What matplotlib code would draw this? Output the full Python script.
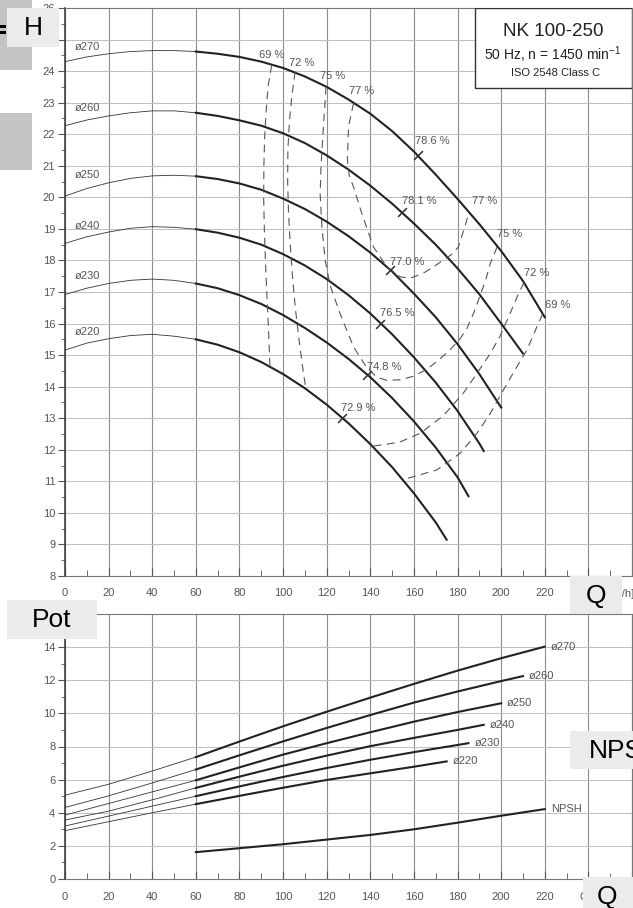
import numpy as np
import matplotlib
matplotlib.use('Agg')
import matplotlib.pyplot as plt
from matplotlib.patches import Rectangle

plt.rcParams['font.family'] = ['Liberation Sans', 'DejaVu Sans']
plt.rcParams['mathtext.fontset'] = 'custom'
plt.rcParams['mathtext.rm'] = 'Liberation Sans'

# ---- head curves H(Q) read from the sheet ----
diameters = ['ø270', 'ø260', 'ø250', 'ø240', 'ø230', 'ø220']

q_h_270 = [0, 10, 20, 30, 40, 50, 60, 70, 80, 90, 100, 110, 120, 130, 140, 150, 160, 170, 180, 190, 200, 210, 220]
h_270 = [24.30, 24.45, 24.55, 24.62, 24.65, 24.65, 24.62, 24.55, 24.45, 24.30, 24.10, 23.83, 23.50, 23.10,
         22.65, 22.10, 21.45, 20.72, 19.95, 19.15, 18.30, 17.35, 16.20]
q_h_260 = [0, 10, 20, 30, 40, 50, 60, 70, 80, 90, 100, 110, 120, 130, 140, 150, 160, 170, 180, 190, 200, 210]
h_260 = [22.27, 22.45, 22.58, 22.68, 22.74, 22.74, 22.68, 22.58, 22.44, 22.27, 22.03, 21.72, 21.33, 20.88,
         20.37, 19.80, 19.17, 18.50, 17.75, 16.93, 16.00, 15.05]
q_h_250 = [0, 10, 20, 30, 40, 50, 60, 70, 80, 90, 100, 110, 120, 130, 140, 150, 160, 170, 180, 190, 200]
h_250 = [20.04, 20.28, 20.46, 20.60, 20.68, 20.70, 20.67, 20.58, 20.44, 20.24, 19.96, 19.63, 19.23, 18.77,
         18.25, 17.65, 16.95, 16.20, 15.35, 14.40, 13.34]
q_h_240 = [0, 10, 20, 30, 40, 50, 60, 70, 80, 90, 100, 110, 120, 130, 140, 150, 160, 170, 180, 190, 192]
h_240 = [18.54, 18.75, 18.90, 19.02, 19.07, 19.05, 18.99, 18.88, 18.72, 18.50, 18.20, 17.84, 17.41, 16.90,
         16.32, 15.66, 14.93, 14.13, 13.23, 12.20, 11.96]
q_h_230 = [0, 10, 20, 30, 40, 50, 60, 70, 80, 90, 100, 110, 120, 130, 140, 150, 160, 170, 180, 185]
h_230 = [16.92, 17.12, 17.27, 17.37, 17.41, 17.37, 17.27, 17.12, 16.90, 16.62, 16.27, 15.86, 15.40, 14.88,
         14.30, 13.64, 12.90, 12.07, 11.13, 10.53]
q_h_220 = [0, 10, 20, 30, 40, 50, 60, 70, 80, 90, 100, 110, 120, 130, 140, 150, 160, 170, 175]
h_220 = [15.16, 15.38, 15.52, 15.62, 15.66, 15.60, 15.50, 15.33, 15.09, 14.78, 14.40, 13.95, 13.43, 12.84,
         12.18, 11.45, 10.62, 9.70, 9.15]
h_label_levels = [24.76, 22.83, 20.70, 19.10, 17.50, 15.74]

# ---- iso-efficiency lines ----
eff_69a_q = [94.8, 93.3, 92.5, 91.6, 91.2, 91.1, 91.4, 91.9, 92.5, 93.2, 94.0]
eff_69a_h = [24.19, 23.6, 23.0, 22.0, 21.0, 20.0, 19.0, 18.0, 17.0, 16.0, 14.63]
eff_72a_q = [105.5, 104.0, 102.9, 102.2, 102.1, 102.5, 103.3, 104.3, 105.6, 107.3, 109.0, 110.5]
eff_72a_h = [23.98, 23.2, 22.4, 21.5, 20.5, 19.5, 18.5, 17.5, 16.5, 15.5, 14.6, 13.9]
eff_75_q = [119.7, 118.5, 117.4, 117.0, 117.8, 119.3, 121.6, 126.1, 132.3, 138.4, 143.0, 147.6, 153.7,
            159.8, 165.9, 172.0, 177.0, 181.0, 184.3, 187.5, 190.4, 193.0, 195.0, 198.8]
eff_75_h = [23.5, 22.24, 21.0, 20.1, 19.07, 18.0, 17.2, 16.32, 15.26, 14.6, 14.3, 14.2, 14.22,
            14.33, 14.55, 14.88, 15.2, 15.5, 15.85, 16.35, 16.9, 17.4, 17.9, 18.54]
eff_77_q = [132.3, 130.0, 129.5, 130.3, 132.3, 136.1, 141.4, 147.6, 153.7, 158.5, 164.4, 169.0, 173.5,
            177.5, 180.4, 183.5, 185.2]
eff_77_h = [22.98, 22.24, 21.18, 20.7, 20.33, 19.49, 18.43, 17.8, 17.48, 17.44, 17.6, 17.8, 18.01,
            18.2, 18.43, 19.1, 19.52]
eff_72b_q = [210.5, 208.0, 204.1, 199.5, 195.0, 188.9, 182.7, 173.5, 162.8, 153.7, 147.0, 141.4]
eff_72b_h = [17.3, 16.95, 16.32, 15.6, 15.05, 14.42, 13.8, 13.08, 12.52, 12.25, 12.17, 12.12]
eff_69b_q = [219.0, 216.4, 211.8, 207.2, 201.0, 195.0, 188.9, 181.2, 170.5, 159.8, 155.0]
eff_69b_h = [16.3, 15.9, 15.16, 14.63, 13.89, 13.15, 12.52, 11.89, 11.36, 11.15, 11.05]

eff_labels = ['69 %', '72 %', '75 %', '77 %', '78.6 %', '78.1 %', '77 %', '75 %', '72 %', '69 %',
              '77.0 %', '76.5 %', '74.8 %', '72.9 %']
eff_label_q = [94.9, 108.7, 122.5, 135.8, 168.3, 162.4, 192.2, 204.1, 216.5, 225.7, 156.9, 152.3, 146.3, 134.4]
eff_label_h = [24.5, 24.25, 23.84, 23.37, 21.79, 19.88, 19.88, 18.83, 17.6, 16.59, 17.95, 16.33, 14.63, 13.32]

# best efficiency points marked on each head curve
bep_q = [162.0, 154.4, 149.0, 144.5, 138.4, 126.9]
bep_h = [21.35, 19.55, 17.7, 16.0, 14.37, 13.0]

# ---- power curves P(Q) and NPSH ----
q_p_270 = [0, 20, 40, 60, 80, 100, 120, 140, 160, 180, 200, 220]
p_270 = [5.06, 5.72, 6.52, 7.36, 8.30, 9.22, 10.10, 10.95, 11.78, 12.58, 13.33, 14.03]
q_p_260 = [0, 20, 40, 60, 80, 100, 120, 140, 160, 180, 200, 210]
p_260 = [4.32, 5.02, 5.80, 6.61, 7.47, 8.31, 9.12, 9.90, 10.65, 11.32, 11.95, 12.25]
q_p_250 = [0, 20, 40, 60, 80, 100, 120, 140, 160, 180, 200]
p_250 = [3.86, 4.56, 5.26, 5.96, 6.74, 7.51, 8.20, 8.86, 9.50, 10.08, 10.61]
q_p_240 = [0, 20, 40, 60, 80, 100, 120, 140, 160, 180, 192]
p_240 = [3.56, 4.10, 4.78, 5.50, 6.18, 6.84, 7.45, 8.02, 8.52, 9.00, 9.31]
q_p_230 = [0, 20, 40, 60, 80, 100, 120, 140, 160, 185]
p_230 = [3.20, 3.80, 4.40, 5.00, 5.59, 6.16, 6.70, 7.20, 7.66, 8.20]
q_p_220 = [0, 20, 40, 60, 80, 100, 120, 140, 160, 175]
p_220 = [2.92, 3.46, 4.00, 4.52, 5.02, 5.51, 5.98, 6.38, 6.78, 7.10]
q_npsh = [60, 80, 100, 120, 140, 160, 180, 200, 220]
npsh = [1.62, 1.86, 2.10, 2.38, 2.66, 3.00, 3.40, 3.82, 4.22]

head_curves = [(q_h_270, h_270), (q_h_260, h_260), (q_h_250, h_250),
               (q_h_240, h_240), (q_h_230, h_230), (q_h_220, h_220)]
power_curves = [(q_p_270, p_270), (q_p_260, p_260), (q_p_250, p_250),
                (q_p_240, p_240), (q_p_230, p_230), (q_p_220, p_220)]
eff_lines = [(eff_69a_q, eff_69a_h), (eff_72a_q, eff_72a_h), (eff_75_q, eff_75_h),
             (eff_77_q, eff_77_h), (eff_72b_q, eff_72b_h), (eff_69b_q, eff_69b_h)]

W, H = 633, 908
fig = plt.figure(figsize=(W / 100, H / 100), dpi=100)
ax1 = fig.add_axes([65 / W, 1 - 576 / H, 567 / W, 568 / H])
ax2 = fig.add_axes([65 / W, 1 - 879 / H, 567 / W, 265 / H])


def style_axes(ax, ymin, ymax, ystep, yminor):
    ax.set_xlim(0, 260)
    ax.set_ylim(ymin, ymax)
    xt = np.arange(0, 261, 20)
    ax.set_xticks(xt)
    ax.set_xticklabels([str(v) if v <= 220 else '' for v in xt])
    ax.set_xticks(np.arange(10, 260, 20), minor=True)
    ax.set_yticks(np.arange(ymin, ymax + 0.01, ystep))
    ax.set_yticks(np.arange(ymin, ymax, yminor), minor=True)
    ax.grid(True, which='major', axis='x', color='#8c8c8c', lw=0.8)
    ax.grid(True, which='major', axis='y', color='#bdbdbd', lw=0.7)
    ax.set_axisbelow(True)
    ax.tick_params(axis='both', which='both', labelsize=8, labelcolor='#555', color='#555')
    ax.tick_params(axis='x', which='major', direction='in', length=6, pad=9)
    ax.tick_params(axis='x', which='minor', direction='in', length=4)
    ax.tick_params(axis='y', which='major', direction='out', length=5, pad=2)
    ax.tick_params(axis='y', which='minor', direction='out', length=3)
    for side in ['top', 'right', 'bottom']:
        ax.spines[side].set_color('#777')
        ax.spines[side].set_linewidth(0.8)
    ax.spines['left'].set_color('#333')
    ax.spines['left'].set_linewidth(1.1)


style_axes(ax1, 8, 26, 1, 0.5)
style_axes(ax2, 0, 16, 2, 1)

# head curves: thin below 60 m3/h, heavy above
for (q, h), name, ly in zip(head_curves, diameters, h_label_levels):
    q = np.array(q)
    h = np.array(h)
    ax1.plot(q[q <= 60], h[q <= 60], color='#333', lw=0.6)
    ax1.plot(q[q >= 60], h[q >= 60], color='#222', lw=1.5)
    ax1.text(4.6, ly, name, fontsize=8, color='#555', ha='left', va='center')

for q, h in eff_lines:
    ax1.plot(q, h, color='#555', lw=0.8, linestyle=(0, (7, 5)))

ax1.plot(bep_q, bep_h, linestyle='none', marker=(2, 2, -45), markersize=9,
         markeredgecolor='#333', markeredgewidth=0.8)

for txt, x, y in zip(eff_labels, eff_label_q, eff_label_h):
    ax1.text(x, y, txt, fontsize=8, color='#555', ha='center', va='center')

# type plate
ax1.add_patch(Rectangle((188.1, 23.46), 71.9, 2.54, fc='white', ec='#333', lw=1.0, zorder=5))
ax1.text(224.0, 25.24, 'NK 100-250', fontsize=13.5, color='#222', ha='center', va='center', zorder=6)
ax1.text(223.5, 24.52, r'50 Hz, n = 1450 min$^{-1}$', fontsize=10, color='#222',
         ha='center', va='center', zorder=6)
ax1.text(224.8, 23.94, 'ISO 2548 Class C', fontsize=8, color='#222', ha='center', va='center', zorder=6)

# power and NPSH
for (q, p), name in zip(power_curves, diameters):
    q = np.array(q)
    p = np.array(p)
    ax2.plot(q[q <= 60], p[q <= 60], color='#333', lw=0.6)
    ax2.plot(q[q >= 60], p[q >= 60], color='#222', lw=1.5)
    ax2.text(q[-1] + 2.7, p[-1], name, fontsize=8, color='#555', ha='left', va='center')

ax2.plot(q_npsh, npsh, color='#222', lw=1.5)
ax2.text(q_npsh[-1] + 2.7, npsh[-1], 'NPSH', fontsize=8, color='#555', ha='left', va='center')

# axis unit labels (mostly hidden behind the grey tags)
fig.text(634 / W, 1 - 594 / H, 'Q [m³/h]', fontsize=8, color='#555', ha='right', va='center')
fig.text(580 / W, 1 - 897 / H, 'Q [m³/h]', fontsize=8, color='#555', ha='left', va='center')


# grey overlay tags on top of the scan
def px_box(x0, y0, x1, y1, color):
    fig.add_artist(Rectangle((x0 / W, 1 - y1 / H), (x1 - x0) / W, (y1 - y0) / H,
                             transform=fig.transFigure, fc=color, ec='none', zorder=10))


def px_text(x, y, s, ha='center'):
    fig.text(x / W, 1 - y / H, s, fontsize=19, color='black', ha=ha, va='center', zorder=11)


px_box(0, 0, 32, 70, '#c4c4c4')
px_box(0, 113, 32, 170, '#c4c4c4')
px_box(0, 25, 6, 28, 'black')
px_box(0, 31, 6, 34, 'black')
px_box(7, 8, 59, 47, '#ebebeb')
px_text(33, 28, 'H')
px_box(7, 600, 97, 639, '#ebebeb')
px_text(52, 620, 'Pot')
px_box(570, 576, 622, 614, '#ebebeb')
px_text(596, 596, 'Q')
px_box(570, 731, 640, 769, '#ebebeb')
px_text(589, 751, 'NPSH', ha='left')
px_box(583, 877, 640, 910, '#ebebeb')
px_text(607, 897, 'Q')

fig.savefig('out.png', dpi=100)
